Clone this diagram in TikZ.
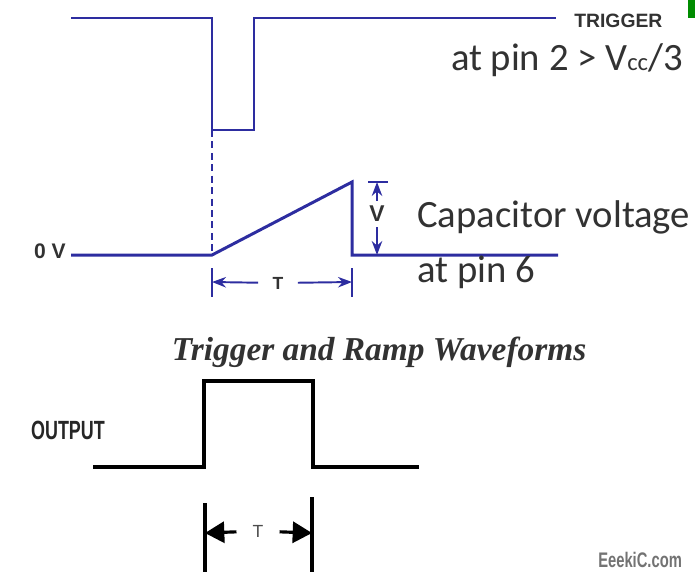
\documentclass[tikz,border=0pt]{standalone}
\usepackage{fontspec}
\newfontfamily\calib{Carlito}
\newfontfamily\arialf{Liberation Sans}
\newfontfamily\timesf{Liberation Serif}
\usetikzlibrary{arrows.meta,positioning}
\definecolor{wave}{RGB}{45,45,160}
\definecolor{ink}{RGB}{50,50,50}

\begin{document}
\begin{tikzpicture}[x=0.02cm,y=-0.02cm,>=Stealth,
  sig/.style={wave,line width=1.7pt},
  pulse/.style={black,line width=2.8pt,line join=miter},
  dim/.style={wave,line width=1.1pt},
  odim/.style={black,line width=1.8pt},
  lbl/.style={text=ink,inner sep=0pt},
  big/.style={lbl,font=\calib\fontsize{22}{22}\selectfont}]
  \useasboundingbox (0,0) rectangle (695,572);
  \fill[green!55!black] (688,0) rectangle (695,18);

  % trigger at pin 2
  \coordinate (t0) at (71,18);
  \coordinate (t1) at (212,18);
  \coordinate (t2) at (212,130);
  \coordinate (t3) at (254,130);
  \coordinate (t4) at (254,18);
  \coordinate (t5) at (556,18);
  \draw[sig] (t0) -- (t1) -- (t2) -- (t3) -- (t4) -- (t5);
  \node (trig) [lbl,anchor=west,font=\arialf\bfseries\fontsize{11}{11}\selectfont] at (574,21) {TRIGGER};
  \node (pin2) [big,anchor=base east] at (683,70) {at pin 2 > V{\fontsize{14}{14}\selectfont cc}/3};

  % ramp at pin 6
  \coordinate (r0) at (71,255);
  \coordinate (r1) at (212,255);
  \coordinate (r2) at (352,182);
  \coordinate (r3) at (352,255);
  \coordinate (r4) at (558,255);
  \draw[wave,dash pattern=on 4pt off 2.5pt,line width=0.8pt] (t2) -- (r1);
  \draw[sig] (r0) -- (r1) -- (r2) -- (r3) -- (r4);
  \node (zero) [lbl,anchor=east,font=\arialf\bfseries\fontsize{12}{12}\selectfont] at (66,251) {0 V};
  \node (cap) [big,anchor=base west] at (417,227) {Capacitor voltage};
  \node (pin6) [big,anchor=base west] at (417,282) {at pin 6};

  % V and T marks
  \coordinate (vtop) at (377,182);
  \coordinate (vbot) at (377,255);
  \draw[dim] (368,182) -- (388,182);
  \node (vlab) [lbl,font=\arialf\bfseries\fontsize{13}{13}\selectfont,inner ysep=3pt] at (377,214) {V};
  \draw[dim,->] (vlab) -- (vtop);
  \draw[dim,->] (vlab) -- (vbot);
  \coordinate (ta) at (212,282);
  \coordinate (tb) at (352,282);
  \draw[dim] (212,268) -- (212,297);
  \draw[dim] (352,268) -- (352,297);
  \node (tlab) [lbl,font=\arialf\bfseries\fontsize{10}{10}\selectfont,inner xsep=8pt] at (278,283) {T};
  \draw[dim,->] (tlab) -- (ta);
  \draw[dim,->] (tlab) -- (tb);

  \node (title) [lbl,font=\timesf\bfseries\itshape\fontsize{19}{19}\selectfont] at (379,352) {Trigger and Ramp Waveforms};

  % output pulse
  \coordinate (o0) at (93,467);
  \coordinate (o1) at (204,467);
  \coordinate (o2) at (204,381);
  \coordinate (o3) at (313,381);
  \coordinate (o4) at (313,467);
  \coordinate (o5) at (419,467);
  \draw[pulse] (o0) -- (o1) -- (o2) -- (o3) -- (o4) -- (o5);
  \node (out) [lbl,text=black!85,font=\arialf\bfseries\fontsize{15}{15}\selectfont,xscale=0.68] at (68,430) {OUTPUT};
  \coordinate (oa) at (205,533);
  \coordinate (ob) at (312,533);
  \draw[odim] (205,503) -- (205,572);
  \draw[odim] (312,497) -- (312,572);
  \node (olab) [lbl,text=black!70,font=\arialf\fontsize{10}{10}\selectfont,inner xsep=9pt] at (258,531) {T};
  \draw[odim,-{Triangle[length=11pt,width=12pt]}] (olab) -- (oa);
  \draw[odim,-{Triangle[length=11pt,width=12pt]}] (olab) -- (ob);

  \node (wm) [lbl,anchor=west,text=black!55,font=\arialf\bfseries\fontsize{12}{12}\selectfont,xscale=0.7] at (598,560) {EeekiC.com};
\end{tikzpicture}
\end{document}
